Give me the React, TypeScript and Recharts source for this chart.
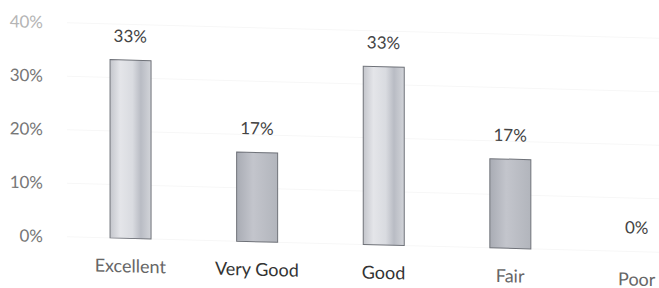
import { Bar, CartesianGrid, Cell, ComposedChart, Line, XAxis, YAxis } from "recharts";

const CATEGORIES = ["Excellent", "Very Good", "Good", "Fair", "Poor"];
const SHARE = [33.33, 16.67, 33.33, 16.67, 0];
const Y_TICKS = [0, 10, 20, 30, 40];

const FONT = "Lato, 'Open Sans', sans-serif";
const data = CATEGORIES.map((name, i) => ({ name, share: SHARE[i] }));

// lighter bars for the 33% ones, darker for 17% (as in the scan)
const FILLS = ["url(#barLight)", "url(#barDark)", "url(#barLight)", "url(#barDark)", "url(#barDark)"];

function YTick(props: any) {
  const { x, y, payload } = props;
  const faded = payload.value === 40;
  return (
    <text x={x - 22} y={y + 6} textAnchor="end" fontFamily={FONT} fontSize={17} fill={faded ? "#b5b5b5" : "#777"}>
      {`${payload.value}%`}
    </text>
  );
}

function XTick(props: any) {
  const { x, y, payload } = props;
  const light = payload.value === "Excellent" || payload.value === "Fair" || payload.value === "Poor";
  return (
    <text x={x} y={y + 26} textAnchor="middle" fontFamily={FONT} fontSize={18} fill={light ? "#666" : "#333"}>
      {payload.value}
    </text>
  );
}

// labels ride on an invisible line so the 0% (no bar) still gets one
function ValueLabel(props: any) {
  const { x, y, value } = props;
  return (
    <text x={x} y={y - 18} textAnchor="middle" fontFamily={FONT} fontSize={17} fill="#444">
      {`${Math.round(Number(value))}%`}
    </text>
  );
}

export default function App() {
  return (
    <div
      style={{
        position: "fixed",
        left: 0,
        top: 0,
        width: 659,
        height: 288,
        overflow: "hidden",
        background: "#fff",
      }}
    >
      <div style={{ transform: "skewY(1.5deg)", transformOrigin: "0 0" }}>
        <ComposedChart width={700} height={288} data={data} margin={{ top: 21, right: 0, bottom: 0, left: 0 }} barCategoryGap="34%">
          <defs>
            <linearGradient id="barLight" x1="0" y1="0" x2="1" y2="0">
              <stop offset="0%" stopColor="#c4c6cc" />
              <stop offset="25%" stopColor="#e4e5e9" />
              <stop offset="55%" stopColor="#d9dbe0" />
              <stop offset="75%" stopColor="#b9bcc4" />
              <stop offset="100%" stopColor="#d2d4d9" />
            </linearGradient>
            <linearGradient id="barDark" x1="0" y1="0" x2="1" y2="0">
              <stop offset="0%" stopColor="#a9acb4" />
              <stop offset="40%" stopColor="#c3c5cc" />
              <stop offset="100%" stopColor="#b2b5bc" />
            </linearGradient>
          </defs>
          <CartesianGrid vertical={false} stroke="#f7f7f7" />
          <XAxis dataKey="name" axisLine={false} tickLine={false} height={53} tick={<XTick />} interval={0} />
          <YAxis
            width={67}
            domain={[0, 40]}
            ticks={Y_TICKS}
            axisLine={false}
            tickLine={false}
            tickSize={0}
            tick={<YTick />}
          />
          <Bar dataKey="share" stroke="#6f7279" strokeWidth={1} isAnimationActive={false}>
            {data.map((d, i) => (
              <Cell key={d.name} fill={FILLS[i]} />
            ))}
          </Bar>
          <Line
            dataKey="share"
            stroke="none"
            dot={false}
            activeDot={false}
            label={<ValueLabel />}
            isAnimationActive={false}
          />
        </ComposedChart>
      </div>
    </div>
  );
}
